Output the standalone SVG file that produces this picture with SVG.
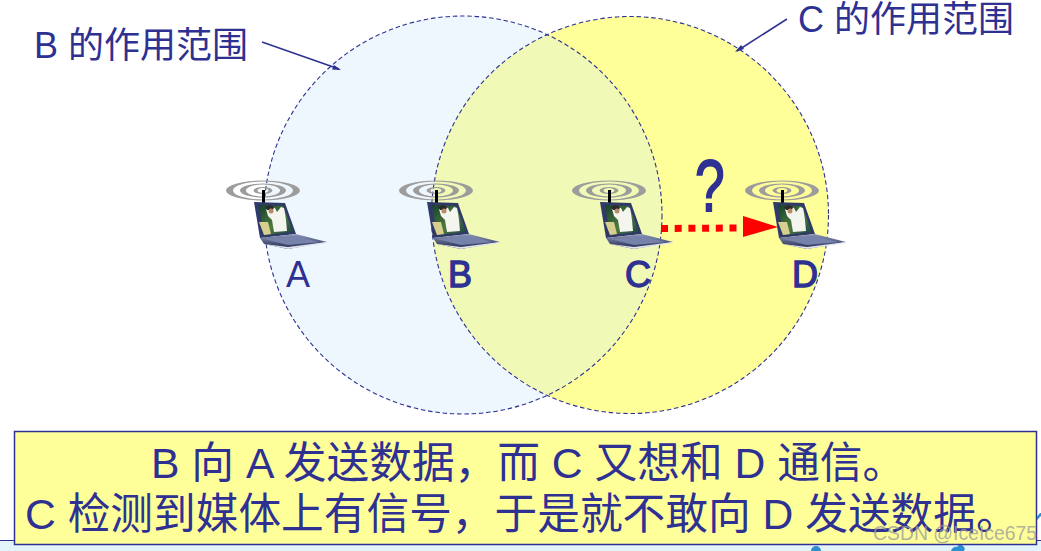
<svg xmlns="http://www.w3.org/2000/svg" width="1041" height="551" viewBox="0 0 1041 551">
<style>
text{font-family:"Liberation Sans","Noto Sans CJK SC",sans-serif;fill:#2e3192}
.lab{font-size:36px}
.bold{stroke:#2e3192;stroke-width:1.3px}
.big{font-size:36px}
.cap{font-size:42.700px}
.range{stroke:#2e3192;stroke-width:1.100;stroke-dasharray:4.500 2.800;fill:none}
.ring{fill:#9c9c9c;fill-rule:evenodd}
</style>
<defs>
<linearGradient id="skin" x1="0" y1="0" x2="1" y2="1"><stop offset="0" stop-color="#16402e"/><stop offset="0.55" stop-color="#4d7a3d"/><stop offset="1" stop-color="#1d3f4a"/></linearGradient>
<linearGradient id="base" x1="0" y1="0" x2="0" y2="1"><stop offset="0" stop-color="#8f99bd"/><stop offset="1" stop-color="#1d2548"/></linearGradient>
<g id="laptop">
<path class="ring" d="M226,190.500a37,10 0 1 0 74,0a37,10 0 1 0 -74,0zM233,190.500a30,9 0 1 1 60,0a30,9 0 1 1 -60,0z"/>
<path class="ring" d="M240,190.500a23,7 0 1 0 46,0a23,7 0 1 0 -46,0zM246,190.500a17,6 0 1 1 34,0a17,6 0 1 1 -34,0z"/>
<path class="ring" d="M253.500,190.500a9.500,3.500 0 1 0 19,0a9.500,3.500 0 1 0 -19,0zM257.500,190.500a5.500,2.500 0 1 1 11,0a5.500,2.500 0 1 1 -11,0z"/>
<rect x="262" y="190" width="3" height="13" fill="#000"/>
<polygon points="254,202 285,203 296,234 260,238" fill="#2f3a68"/>
<polygon points="259,205 283,206 293,232 264,235" fill="url(#skin)"/>
<polygon points="259,222 268,222 271,234 264,235" fill="#d7cf8e"/>
<path d="M266,209l4,-3 5,2 2,4 4,-5 3,1 1,5 1,7 1,11 -13,1 -2,-12 -4,-4z" fill="#f5f5ef"/>
<path d="M265,207l5,-2 4,2 -1,3 -6,0z" fill="#2a2a2a"/>
<circle cx="271" cy="211" r="2.500" fill="#b88a66"/>
<polygon points="260,238 296,234 327,242 288,249 264,244" fill="url(#base)"/>
<polygon points="264,239 296,236 319,242 288,245" fill="#7682aa"/>
<polygon points="264,244 288,247 327,242 327,243 288,249" fill="#dfe3f0"/>
</g>
</defs>
<rect width="1041" height="551" fill="#fff"/>
<rect x="0" y="541" width="1041" height="10" fill="#e4f4fd"/>
<line x1="0" y1="540.500" x2="1041" y2="540.500" stroke="#2e3192"/>
<path d="M811,551a5,5 0 0 1 10,0zM951,551a5,5 0 0 1 6,-4a4,4 0 0 1 7,4zM1036,518l4,-5 1,0 0,3 -4,4z" fill="#2e8fd0"/>
<g id="ranges">
<circle cx="463" cy="215" r="199" fill="#eff7fe"/>
<circle cx="630" cy="215" r="198.500" fill="#ffff99"/>
<path d="M547,34.700A199,199 0 0 1 547,395.300A198.500,198.500 0 0 1 547,34.700Z" fill="#f0f9b5"/>
<circle class="range" cx="463" cy="215" r="199"/>
<circle class="range" cx="630" cy="215" r="198.500"/>
</g>
<g id="node-A"><use href="#laptop"/><text class="lab" x="286" y="287">A</text></g>
<g id="node-B"><use href="#laptop" x="173"/><text class="lab bold" x="448" y="287">B</text></g>
<g id="node-C"><use href="#laptop" x="346"/><text class="lab bold" x="625" y="287">C</text></g>
<g id="node-D"><use href="#laptop" x="519"/><text class="lab bold" x="792" y="287">D</text></g>
<g id="connectors">
<line x1="262" y1="42" x2="339" y2="69" stroke="#2e3192" stroke-width="1.500"/>
<polygon points="341,70 332,69.500 334,65" fill="#2e3192"/>
<line x1="787" y1="19" x2="737" y2="51" stroke="#2e3192" stroke-width="1.500"/>
<polygon points="735,52 741,45 744,49" fill="#2e3192"/>
<line x1="661" y1="228.500" x2="738" y2="228" stroke="#f00" stroke-width="7" stroke-dasharray="7 6.700"/>
<polygon points="743,216 778,227 743,237" fill="#f00"/>
</g>
<text id="q" transform="translate(695 210.500) scale(.74 1)" font-size="72" stroke="#2e3192" stroke-width="1.800">?</text>
<g id="label-B"><text class="big" x="34" y="58">B 的作用范围</text></g>
<g id="label-C"><text class="big" x="798" y="32">C 的作用范围</text></g>
<g id="caption">
<rect x="14.500" y="431.500" width="1022" height="113" fill="#ffff99" stroke="#2e3192" stroke-width="1.500"/>
<text class="cap" x="151" y="478">B 向 A 发送数据，而 C 又想和 D 通信。</text>
<text class="cap" x="25" y="529">C 检测到媒体上有信号，于是就不敢向 D 发送数据。</text>
</g>
<text id="watermark" x="873" y="540" font-size="19.400" style="fill:#9a9a9a;opacity:.75">CSDN @IceIce675</text>
</svg>
